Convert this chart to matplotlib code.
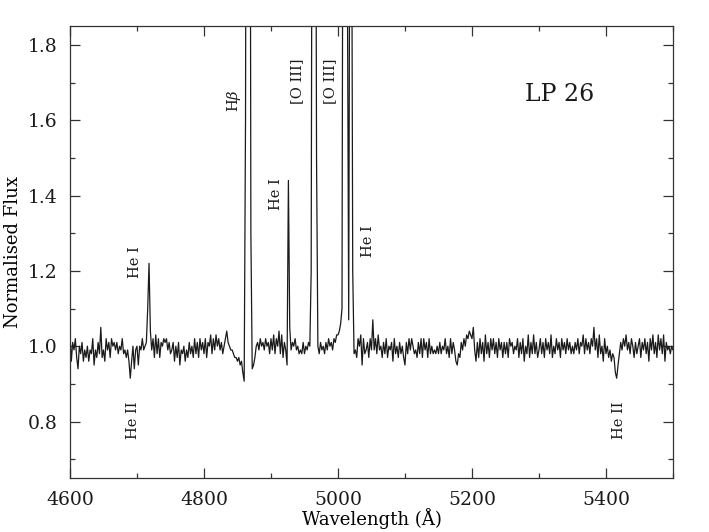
import numpy as np
import matplotlib
matplotlib.use("Agg")
import matplotlib.pyplot as plt
from matplotlib.ticker import MultipleLocator

plt.rcParams['font.family'] = 'DejaVu Serif'
plt.rcParams['mathtext.fontset'] = 'dejavuserif'

# normalised flux, sampled every 2 A from 4600 to 5500
flux = [
    1.03, 0.96, 1.01, 0.99, 1.02, 0.97, 0.94, 1.00, 0.98, 1.01, 0.96, 0.99, 0.97, 1.00, 0.96, 0.99, 0.98, 1.02, 0.95, 0.99, 0.97, 1.01, 0.98, 1.05, 0.97,
    0.99, 0.96, 1.02, 0.99, 1.01, 0.97, 1.02, 1.00, 1.01, 0.99, 1.01, 0.98, 1.00, 0.99, 1.02, 0.98, 0.99, 0.97, 0.99, 0.96, 0.915, 0.96, 1.00, 0.94, 0.99,
    1.00, 0.95, 1.00, 0.99, 1.02, 0.99, 1.00, 1.01, 1.10, 1.22, 1.04, 0.99, 1.02, 0.97, 1.03, 0.98, 1.02, 0.97, 1.01, 1.00, 1.02, 1.01, 1.02, 0.99, 1.01,
    0.98, 0.99, 1.01, 0.96, 1.00, 0.97, 1.01, 0.95, 0.99, 0.98, 1.00, 0.96, 0.99, 0.97, 1.01, 0.98, 1.00, 0.97, 1.02, 0.98, 1.01, 0.97, 1.02, 0.99, 1.01,
    0.98, 1.02, 0.97, 1.01, 1.00, 1.03, 0.98, 1.02, 0.99, 1.03, 1.00, 1.02, 0.99, 1.01, 0.98, 1.00, 1.02, 1.04, 1.01, 1.00, 0.99, 0.99, 0.98, 0.97, 0.97,
    0.96, 0.97, 0.95, 0.96, 0.93, 0.907, 1.6, 3.5, 4.5, 3.5, 1.3, 0.94, 0.95, 0.97, 1.00, 1.01, 0.99, 1.02, 1.00, 1.01, 0.99, 1.02, 1.00, 1.01, 0.98,
    1.02, 0.99, 1.03, 0.98, 1.02, 1.00, 1.04, 0.98, 1.03, 0.97, 1.01, 0.99, 0.95, 1.44, 1.05, 0.99, 1.01, 1.00, 1.02, 0.99, 1.00, 0.98, 0.99, 0.98, 1.01,
    0.98, 1.00, 0.99, 1.01, 1.00, 1.2, 3.0, 5.0, 3.0, 1.5, 1.00, 0.98, 1.01, 0.99, 1.00, 0.98, 1.01, 0.99, 1.02, 1.00, 1.01, 0.99, 1.02, 1.01, 1.03,
    1.03, 1.04, 1.06, 1.10, 3.0, 5.0, 4.0, 2.0, 1.07, 2.5, 2.5, 1.2, 0.98, 0.99, 0.97, 1.02, 1.00, 1.03, 0.95, 1.02, 0.98, 0.99, 1.01, 0.97, 1.02,
    0.99, 1.07, 0.99, 1.02, 0.98, 1.03, 0.99, 1.00, 0.97, 1.01, 0.98, 1.02, 0.97, 1.00, 0.99, 1.01, 0.96, 1.02, 0.98, 1.00, 0.97, 1.01, 0.98, 1.00, 0.97,
    0.95, 1.01, 0.98, 1.02, 0.99, 1.02, 1.00, 0.98, 0.99, 0.97, 1.01, 0.98, 1.02, 0.97, 1.02, 0.99, 1.01, 0.97, 1.02, 0.98, 1.00, 0.98, 0.99, 0.98, 1.00,
    0.98, 1.01, 0.98, 1.00, 0.99, 1.02, 0.98, 1.00, 0.97, 1.02, 0.98, 1.01, 0.99, 0.96, 0.95, 0.98, 0.97, 1.01, 0.99, 1.02, 1.00, 1.03, 1.02, 1.04, 1.03,
    1.02, 1.05, 0.99, 0.96, 1.01, 0.97, 1.02, 0.98, 1.01, 0.96, 1.03, 0.98, 1.01, 0.97, 1.02, 0.99, 1.02, 0.98, 1.01, 0.97, 1.02, 0.99, 1.01, 0.97, 1.01,
    0.98, 1.01, 0.97, 1.02, 1.00, 1.01, 0.98, 1.00, 0.99, 1.02, 0.97, 1.01, 0.98, 1.02, 0.96, 1.00, 0.98, 1.03, 0.97, 1.01, 0.98, 1.03, 0.98, 1.01, 0.97,
    0.99, 1.02, 0.98, 1.01, 0.97, 1.02, 0.99, 1.01, 0.98, 1.03, 0.97, 1.00, 0.98, 1.02, 0.99, 1.01, 0.97, 1.02, 0.99, 1.01, 0.98, 1.02, 0.99, 1.01, 0.98,
    1.00, 0.98, 1.01, 0.99, 1.02, 0.98, 1.01, 1.00, 1.03, 0.98, 1.02, 0.99, 1.01, 0.98, 1.02, 1.00, 1.05, 0.99, 1.02, 0.97, 1.03, 0.98, 1.00, 0.96, 1.02,
    0.98, 1.00, 0.97, 0.99, 0.96, 0.98, 0.97, 0.93, 0.915, 0.95, 0.98, 1.01, 0.99, 1.02, 1.00, 1.03, 0.99, 1.01, 0.98, 1.02, 1.00, 0.97, 1.01, 0.98, 1.00,
    1.02, 0.97, 1.01, 0.99, 1.02, 0.98, 1.01, 0.96, 1.02, 0.99, 1.03, 0.98, 1.01, 0.97, 1.03, 0.99, 1.02, 0.98, 1.03, 0.96, 1.01, 0.99, 1.00, 0.98, 1.00, 0.99,
]
wave = 4600 + 2 * np.arange(len(flux))

# line identifications: (text, wavelength, flux) of label centre
line_labels = ["He I", "He II", r"H$\beta$", "He I", "[O III]", "[O III]", "He I", "He II"]
label_wave = [4697, 4694, 4845, 4907, 4939, 4988, 5045, 5419]
label_flux = [1.224, 0.803, 1.653, 1.405, 1.704, 1.704, 1.28, 0.803]

fig = plt.figure(figsize=(7.09, 5.32), dpi=100)
ax = fig.add_axes([0.0987, 0.1015, 0.8505, 0.8495])

ax.plot(wave, flux, color='#1a1a1a', lw=0.9)

for txt, lx, ly in zip(line_labels, label_wave, label_flux):
    ax.text(lx, ly, txt, rotation=90, ha='center', va='center',
            fontsize=10.5, color='#1a1a1a')

ax.text(5331, 1.669, "LP 26", ha='center', va='center', fontsize=17, color='#1a1a1a')

ax.set_xlim(4600, 5500)
ax.set_ylim(0.65, 1.85)
ax.xaxis.set_major_locator(MultipleLocator(200))
ax.xaxis.set_minor_locator(MultipleLocator(100))
ax.yaxis.set_major_locator(MultipleLocator(0.2))
ax.yaxis.set_minor_locator(MultipleLocator(0.1))
ax.tick_params(which='both', direction='in', top=True, right=True,
               color='#333333', width=0.9, labelsize=13.5, labelcolor='#1a1a1a')
ax.tick_params(which='major', length=7.5, pad=9)
ax.tick_params(which='minor', length=3.8)
for s in ax.spines.values():
    s.set_color('#333333')
    s.set_linewidth(0.9)

ax.set_xlabel("Wavelength (Å)", fontsize=13, labelpad=0)
ax.set_ylabel("Normalised Flux", fontsize=13, labelpad=4)

fig.savefig("out.png", dpi=100)
